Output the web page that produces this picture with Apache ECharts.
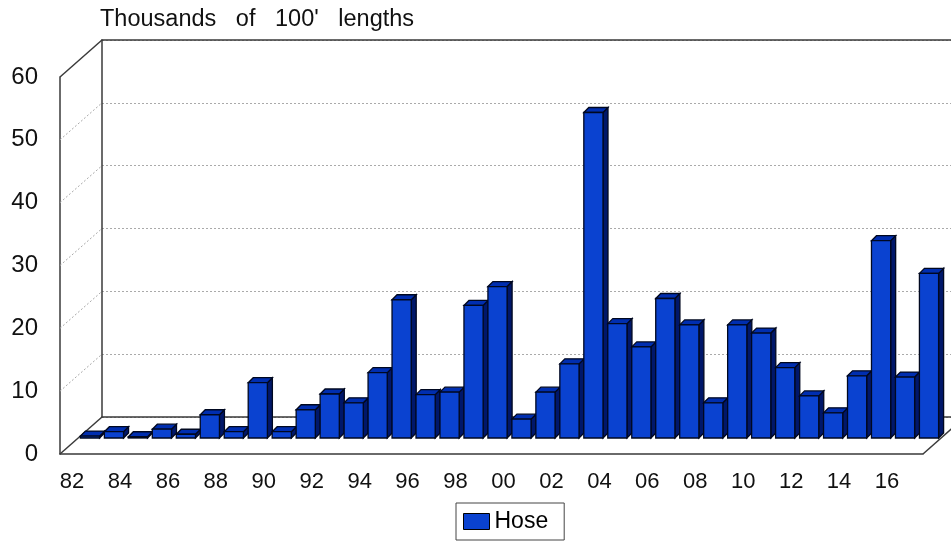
<!DOCTYPE html>
<html>
<head>
<meta charset="utf-8">
<script src="https://cdn.jsdelivr.net/npm/echarts@6/dist/echarts.min.js"></script>
<style>
  html, body { margin: 0; padding: 0; background: #fff; }
  #chart { width: 951px; height: 542px; }
</style>
</head>
<body>
<div id="chart"></div>
<script>
// one bar per year, two-digit labels on the floor
const years = ['82','83','84','85','86','87','88','89','90','91','92','93','94','95','96','97','98','99',
  '00','01','02','03','04','05','06','07','08','09','10','11','12','13','14','15','16','17'];
// thousands of 100' lengths
const hose = [0.3, 1.0, 0.2, 1.4, 0.6, 3.7, 1.0, 8.8, 1.0, 4.5, 7.0, 5.6, 10.4, 22.0, 6.9, 7.3, 21.1, 24.1,
  3.0, 7.3, 11.8, 51.8, 18.2, 14.5, 22.2, 18.0, 5.6, 18.0, 16.7, 11.2, 6.7, 4.0, 9.9, 31.4, 9.7, 26.2];
const yTicks = [0, 10, 20, 30, 40, 50, 60];

const FONT = "'Liberation Sans', Arial, sans-serif";
// fake 3D box: front wall, back wall, and the plane the bars stand in
const front = { left: 60, top: 77, width: 863, height: 377 };
const back = { left: 102, top: 40, width: 863, height: 377 };
const barPlane = { left: 78, top: 61, width: 863, height: 377 };
const depth = [5, -5];

const colors = { front: '#0a42d0', top: '#002eb0', side: '#00176a', edge: '#000820' };
const wallLine = { color: '#3a3a3a', width: 1.5 };

const chart = echarts.init(document.getElementById('chart'));

const valueAxis = (gridIndex, extra) => Object.assign({
  type: 'value', gridIndex, min: 0, max: 60, interval: 10,
  axisTick: { show: false }, splitLine: { show: false }, axisLabel: { show: false }
}, extra);

const option = {
  animation: false,
  title: {
    text: "Thousands   of   100'   lengths",
    left: 100, top: 8, padding: 0,
    textStyle: { fontFamily: FONT, fontSize: 23.5, fontWeight: 'normal', color: '#111' }
  },
  legend: {
    data: ['Hose'],
    left: 456, top: 503,
    padding: [7, 16, 7, 7],
    borderColor: '#444', borderWidth: 1,
    icon: 'rect', itemWidth: 26, itemHeight: 16,
    itemStyle: { borderColor: '#000', borderWidth: 1 },
    textStyle: { fontFamily: FONT, fontSize: 23, color: '#000' }
  },
  grid: [
    Object.assign({}, front),
    Object.assign({}, back),
    Object.assign({}, barPlane)
  ],
  xAxis: [
    {
      type: 'category', gridIndex: 0, data: years,
      axisLine: { lineStyle: wallLine }, axisTick: { show: false },
      axisLabel: { interval: 1, fontFamily: FONT, fontSize: 22, color: '#111', margin: 17 }
    },
    {
      type: 'category', gridIndex: 1, data: years,
      axisLine: { lineStyle: wallLine }, axisTick: { show: false }, axisLabel: { show: false }
    },
    {
      type: 'category', gridIndex: 1, data: years, position: 'top',
      axisLine: { lineStyle: wallLine }, axisTick: { show: false }, axisLabel: { show: false }
    },
    { type: 'category', gridIndex: 2, data: years, show: false }
  ],
  yAxis: [
    valueAxis(0, {
      axisLine: { show: true, lineStyle: wallLine },
      axisLabel: { show: true, fontFamily: FONT, fontSize: 24, color: '#111', margin: 22 }
    }),
    valueAxis(1, {
      axisLine: { show: true, lineStyle: wallLine },
      splitLine: { show: true, lineStyle: { color: '#aaa', type: [2, 2], width: 1 } }
    }),
    valueAxis(2, { show: false })
  ],
  series: [{
    name: 'Hose',
    type: 'custom',
    xAxisIndex: 3, yAxisIndex: 2,
    itemStyle: { color: colors.front },
    data: hose.map((v, i) => [i, v]),
    encode: { x: 0, y: 1 },
    renderItem: function (params, api) {
      const topPt = api.coord([api.value(0), api.value(1)]);
      const basePt = api.coord([api.value(0), 0]);
      const w = api.size([1, 0])[0] * 0.8;
      const x0 = topPt[0] - w / 2, x1 = topPt[0] + w / 2;
      const y0 = topPt[1], yb = basePt[1];
      const dx = depth[0], dy = depth[1];
      const st = (fill) => ({ fill, stroke: colors.edge, lineWidth: 1.3 });
      return {
        type: 'group',
        children: [
          { type: 'polygon', shape: { points: [[x1, yb], [x1 + dx, yb + dy], [x1 + dx, y0 + dy], [x1, y0]] }, style: st(colors.side) },
          { type: 'polygon', shape: { points: [[x0, y0], [x0 + dx, y0 + dy], [x1 + dx, y0 + dy], [x1, y0]] }, style: st(colors.top) },
          { type: 'rect', shape: { x: x0, y: y0, width: w, height: yb - y0 }, style: st(colors.front) }
        ]
      };
    }
  }]
};

chart.setOption(option);

// left wall and floor edges joining the front and back planes
const wall = [];
yTicks.forEach(function (v) {
  const yF = chart.convertToPixel({ yAxisIndex: 0 }, v);
  const yB = chart.convertToPixel({ yAxisIndex: 1 }, v);
  const solid = v === 0 || v === 60;
  wall.push({
    type: 'line', z: 1, silent: true,
    shape: { x1: front.left, y1: yF, x2: back.left, y2: yB },
    style: solid ? { stroke: wallLine.color, lineWidth: wallLine.width }
                 : { stroke: '#aaa', lineWidth: 1, lineDash: [2, 2] }
  });
});
const yF0 = chart.convertToPixel({ yAxisIndex: 0 }, 0);
const yB0 = chart.convertToPixel({ yAxisIndex: 1 }, 0);
wall.push({
  type: 'line', z: 1, silent: true,
  shape: { x1: front.left + front.width, y1: yF0, x2: back.left + back.width, y2: yB0 },
  style: { stroke: wallLine.color, lineWidth: wallLine.width }
});
chart.setOption({ graphic: wall });
</script>
</body>
</html>
